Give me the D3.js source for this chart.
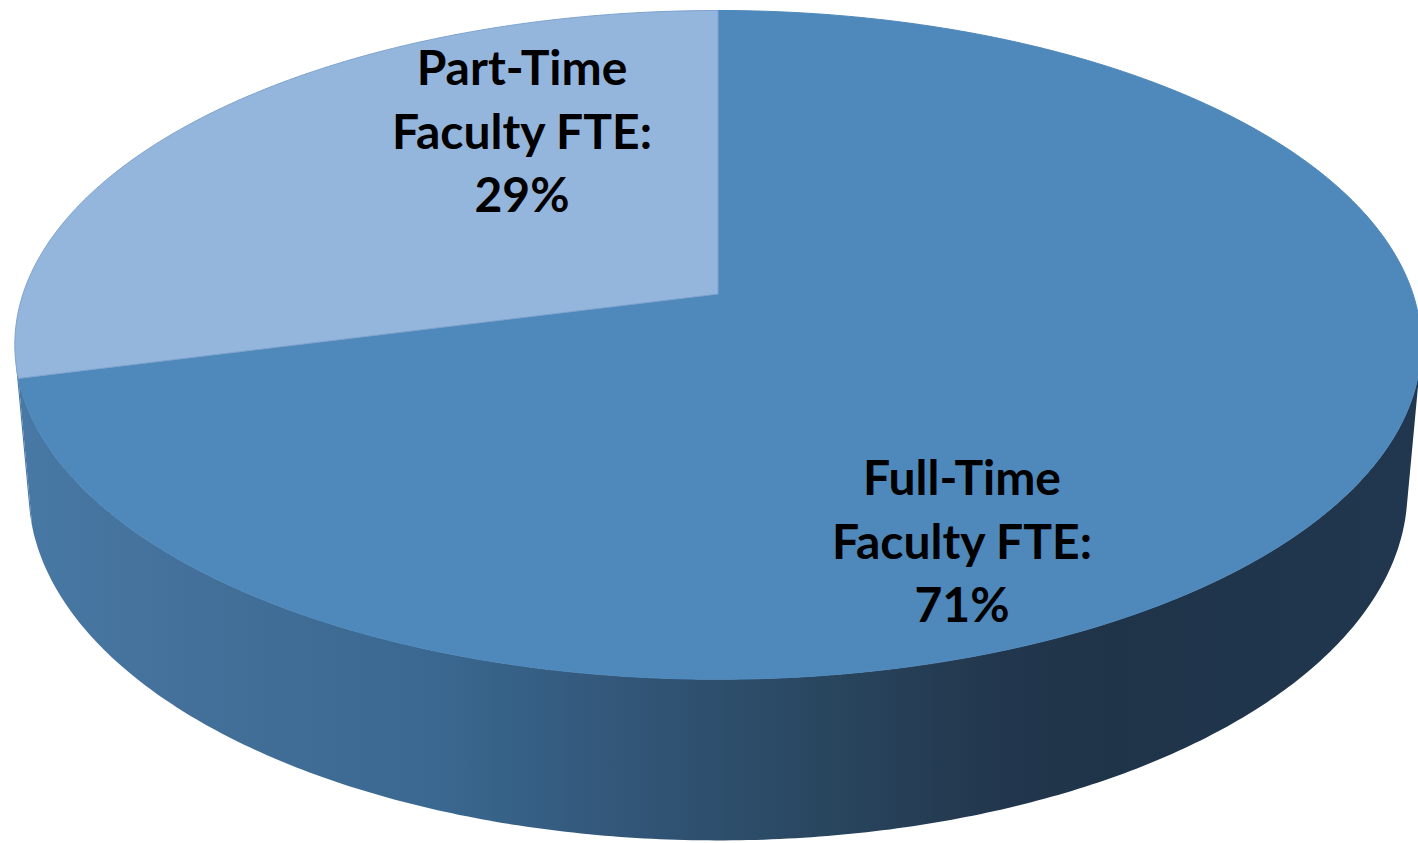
<!DOCTYPE html>
<html>
<head>
<meta charset="utf-8">
<script src="https://cdn.jsdelivr.net/npm/d3@7/dist/d3.min.js"></script>
<style>
  html, body { margin: 0; padding: 0; background: #fff; overflow: hidden; }
  svg { display: block; }
</style>
</head>
<body>
<svg id="chart"></svg>
<script>
// chart data
var categories = ["Full-Time Faculty FTE", "Part-Time Faculty FTE"];
var shares = [71, 29];
var labelLines = [["Full-Time", "Faculty FTE:", "71%"], ["Part-Time", "Faculty FTE:", "29%"]];

var width = 1418, height = 843;
var topColors = ["#4f88ba", "#95b6dc"];

// 3d view settings (pie radius = 1)
var cx = 718, cy = 294, K = 695;
var sinA = 0.47, cosA = Math.sqrt(1 - sinA * sinA);
var camDist = 5.8;     // camera distance in radius units
var thick = 0.24;      // pie thickness in radius units

// where the text blocks sit (centre x, first baseline y)
var labelAt = [[962, 495], [522, 85]];

var svg = d3.select("#chart").attr("width", width).attr("height", height);

// project pie angle (d3 convention, 0 = 12 o'clock, clockwise) at radius r and height h
function project(a, r, h) {
    var x = r * Math.sin(a), y = -r * Math.cos(a);
    var depth = y * cosA + h * sinA;
    var s = 1 / (1 - depth / camDist);
    return [cx + K * s * x, cy + K * s * (y * sinA - h * cosA)];
}

var pie = d3.pie().sort(null).value(function(d) { return d; });
var arcs = pie(shares);

var line = d3.line();

function arcPoints(a0, a1, h) {
    var n = Math.max(2, Math.ceil(Math.abs(a1 - a0) / 0.01));
    return d3.range(n + 1).map(function(i) {
        return project(a0 + (a1 - a0) * i / n, 1, h);
    });
}

// side gradient
var defs = svg.append("defs");
var grad = defs.append("linearGradient")
    .attr("id", "sideGrad")
    .attr("gradientUnits", "userSpaceOnUse")
    .attr("x1", 15).attr("x2", 1420).attr("y1", 0).attr("y2", 0);
[[0, "#4878a5"], [0.15, "#426f98"], [0.3, "#3a6890"], [0.42, "#33587b"],
 [0.56, "#2a4862"], [0.7, "#22374d"], [0.78, "#1f3449"], [1, "#21374f"]].forEach(function(s) {
    grad.append("stop").attr("offset", s[0]).attr("stop-color", s[1]);
});

// visible part of the outer wall: where the wall faces the camera
var ts = Math.asin(1 / (camDist * cosA));
var visLo = Math.PI / 2 + ts, visHi = 3 * Math.PI / 2 - ts;

var sides = svg.append("g");
arcs.forEach(function(d) {
    var a0 = Math.max(d.startAngle, visLo), a1 = Math.min(d.endAngle, visHi);
    if (a1 <= a0) return;
    var pts = arcPoints(a0, a1, 0).concat(arcPoints(a1, a0, -thick));
    sides.append("path")
        .attr("d", line(pts) + "Z")
        .attr("fill", "url(#sideGrad)");
});

// top faces
svg.append("g")
    .selectAll("path")
    .data(arcs)
    .enter()
    .append("path")
    .attr("d", function(d) {
        var pts = [project(0, 0, 0)].concat(arcPoints(d.startAngle, d.endAngle, 0));
        return line(pts) + "Z";
    })
    .attr("fill", function(d, i) { return topColors[i]; })
    .attr("stroke", function(d, i) { return i == 1 ? "#7ea3cf" : "#4f88ba"; })
    .attr("stroke-width", 1)
    .attr("stroke-linejoin", "round");

// labels
var labels = svg.append("g")
    .attr("font-family", "Lato, 'Open Sans', sans-serif")
    .attr("font-weight", "bold")
    .attr("font-size", 48)
    .attr("fill", "#000")
    .attr("text-anchor", "middle");

labelLines.forEach(function(lines, i) {
    var t = labels.append("text").attr("x", labelAt[i][0]).attr("y", labelAt[i][1]);
    lines.forEach(function(s, j) {
        t.append("tspan")
            .attr("x", labelAt[i][0])
            .attr("dy", j == 0 ? 0 : 63.5)
            .text(s);
    });
});
</script>
</body>
</html>
